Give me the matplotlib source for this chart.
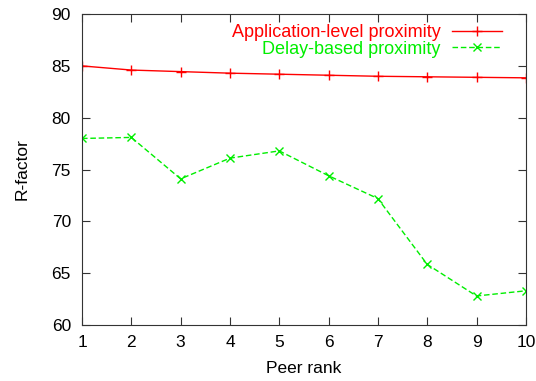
import numpy as np
import matplotlib.pyplot as plt

plt.rcParams['font.family'] = ['Liberation Sans', 'DejaVu Sans']

rank = [1, 2, 3, 4, 5, 6, 7, 8, 9, 10]
app_level = [85.0, 84.6, 84.45, 84.3, 84.2, 84.1, 84.0, 83.95, 83.9, 83.85]
delay_based = [78.0, 78.1, 74.1, 76.1, 76.8, 74.4, 72.2, 65.85, 62.8, 63.3]

fig = plt.figure(figsize=(5.36, 3.81), dpi=100)
ax = fig.add_axes([0.153, 0.147, 0.828, 0.816])

ax.plot(rank, app_level, c='#ff0000', lw=1, marker='+', ms=7, mew=1,
        label='Application-level proximity')
ax.plot(rank, delay_based, c='#00ee00', lw=1, ls=(0, (4, 2)), marker='x',
        ms=5.5, mew=1, label='Delay-based proximity')

ax.set_xlim(1, 10)
ax.set_ylim(60, 90)
ax.set_xticks(rank)
ax.set_yticks([60, 65, 70, 75, 80, 85, 90])
ax.tick_params(direction='in', length=6, top=True, right=True,
               labelsize=12.5, color='#333333')
ax.tick_params(axis='y', pad=8)
ax.tick_params(axis='x', pad=7)
for s in ax.spines.values():
    s.set_color('#333333')
ax.set_xlabel('Peer rank', fontsize=12.5, labelpad=8)
ax.set_ylabel('R-factor', fontsize=12.5, labelpad=16)

leg = ax.legend(loc='upper right', bbox_to_anchor=(0.963, 0.99),
                frameon=False, markerfirst=False, fontsize=13,
                handlelength=2.8, borderaxespad=0, labelspacing=-0.05,
                handletextpad=0.6)
for t, c in zip(leg.get_texts(), ['#ff0000', '#00ee00']):
    t.set_color(c)

fig.savefig('out.png', dpi=100)
